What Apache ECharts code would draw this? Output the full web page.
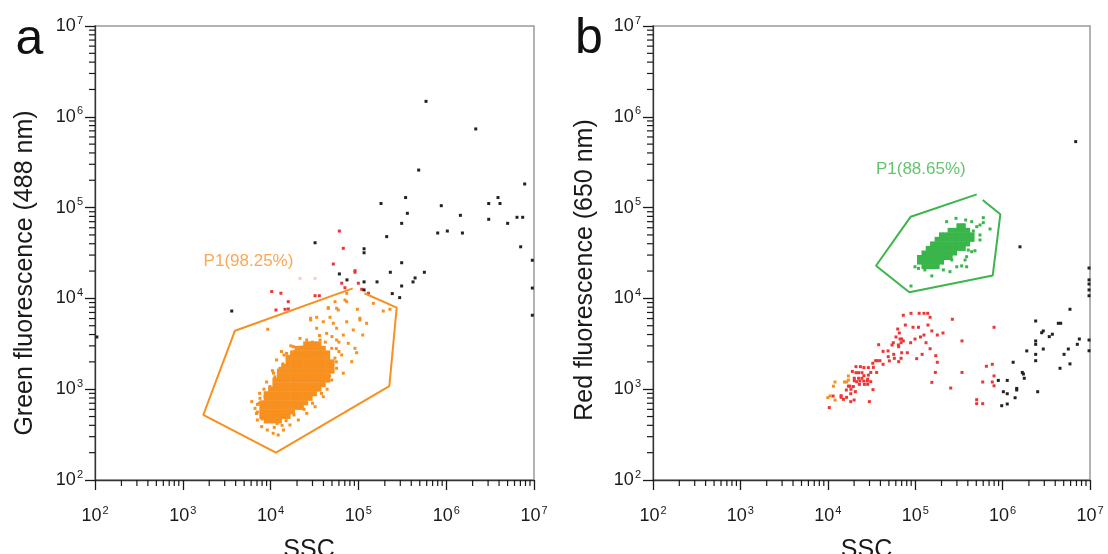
<!DOCTYPE html>
<html><head><meta charset="utf-8">
<script src="https://cdn.jsdelivr.net/npm/echarts@6/dist/echarts.min.js"></script>
<style>html,body{margin:0;padding:0;background:#fff}#chart{width:1108px;height:554px}</style>
</head><body><div id="chart"></div>
<script>
// ---------- axis ticks ----------
const axisMin = 100, axisMax = 1e7;
const majorTicks = [100, 1000, 10000, 100000, 1000000, 10000000];
const minorTicks = [200,300,400,500,600,700,800,900,
  2000,3000,4000,5000,6000,7000,8000,9000,
  20000,30000,40000,50000,60000,70000,80000,90000,
  200000,300000,400000,500000,600000,700000,800000,900000,
  2000000,3000000,4000000,5000000,6000000,7000000,8000000,9000000];

// ---------- panel a : Green fluorescence vs SSC ----------
const gateA = [[117000,11400],[273000,7910],[225000,1080],[11500,200],[1710,520],[3930,4410],[86100,12900]];
const labelA = [[5600,25800]];
const orangeCoreY = [447, 501, 562, 631, 708, 794, 891, 1000, 1120, 1260, 1410, 1580, 1780, 2000, 2240, 2510, 2820, 3160];
const orangeCoreX = [
 [8910, 10000, 11200, 12600],
 [7940, 8910, 10000, 11200, 12600, 14100, 15800],
 [7940, 8910, 10000, 11200, 12600, 14100, 15800, 17800],
 [7940, 8910, 10000, 11200, 12600, 14100, 15800, 17800, 20000, 22400],
 [7940, 8910, 10000, 11200, 12600, 14100, 15800, 17800, 20000, 22400, 25100],
 [8910, 10000, 11200, 12600, 14100, 15800, 17800, 20000, 22400, 25100, 28200],
 [8910, 10000, 11200, 12600, 14100, 15800, 17800, 20000, 22400, 25100, 28200, 31600],
 [10000, 11200, 12600, 14100, 15800, 17800, 20000, 22400, 25100, 28200, 31600, 35500],
 [11200, 12600, 14100, 15800, 17800, 20000, 22400, 25100, 28200, 31600, 35500, 39800],
 [11200, 12600, 14100, 15800, 17800, 20000, 22400, 25100, 28200, 31600, 35500, 39800, 44700],
 [12600, 14100, 15800, 17800, 20000, 22400, 25100, 28200, 31600, 35500, 39800, 44700],
 [12600, 14100, 15800, 17800, 20000, 22400, 25100, 28200, 31600, 35500, 39800, 44700, 50100],
 [14100, 15800, 17800, 20000, 22400, 25100, 28200, 31600, 35500, 39800, 44700, 50100],
 [15800, 17800, 20000, 22400, 25100, 28200, 31600, 35500, 39800, 44700, 50100],
 [15800, 17800, 20000, 22400, 25100, 28200, 31600, 35500, 39800, 44700],
 [17800, 20000, 22400, 25100, 28200, 31600, 35500, 39800, 44700],
 [20000, 22400, 25100, 28200, 31600, 35500, 39800],
 [25100, 28200, 31600, 35500]
];
const orangeHalo = [
 [9270,4570],[28600,5780],[39800,5530],[51800,5320],[73600,5530],[104000,5780],[112000,3950],[87500,4490],[56500,3480],[76700,3200],
 [91400,2820],[83900,2010],[45400,7780],[56500,7780],[73600,9210],[192000,7260],[33500,4690],[25800,3480],[18200,2940],[43500,4120],
 [6100,730],[6640,615],[7570,794],[7070,458],[7920,387],[9180,355],[10700,327],[12200,313],[8630,826],[9840,1070],[11200,1370],[12800,1700],
 [56500,1700],[49700,1260],[39800,826],[32100,641],[25800,542],[20700,458],[16600,404],[14000,355],[67300,1500],[64600,2380],[95500,2520],
 [21600,3630],[36600,3480],[49700,2820],[29400,2700],[56500,4690],[67300,3950],[124000,5320],[14200,2380],[11700,2100],[15200,2480],
 [73600,11400],[54100,9200],[70300,9590],[59000,7450],[97300,7590],[148000,8830],[229000,7590],[45400,7910],[28600,6040],[33500,6190],[47500,6190],[104000,6040],
 [7080,560],[7080,680],[13300,2600],[17000,3000],[54000,2200],[56000,2800],[44000,1000],[38000,900],[30000,700],[24000,600],[7500,900],[8400,1000],
 [10500,1600],[9000,1200],[60000,3300],[42000,3300],[15000,450],[11800,420],[18500,520],[50000,3800],[8300,640],[9500,470],[13000,480],
 [6900,540],[7400,700],[8000,470],[11000,380],[13500,400],[17000,560],[21000,650],[27000,800],[34000,1000],[40000,1150],
 [47000,1400],[56000,2000],[60000,2600],[36000,3900],[30000,3300],[23000,2900],[19000,2600],[16500,2200],[13800,1900],[10800,1500]
];
const paleA = [[21600,16600],[32100,16600]];
const redA = [
 [60700,55200],[67300,35600],[51800,23900],[91400,20200],[91400,19400],[64600,14700],[70300,13100],[99800,14700],[109000,12600],
 [10300,11900],[13100,11400],[15900,9200],[32100,10700],[35900,10700],[11500,7450],[14600,7590],[15900,7640],[130000,11400]
];
const blackA = [
 [589000,1480000],[2170000,735000],[486000,259000],[7830000,182000],[345000,129000],[181000,111000],[361000,86500],[311000,67100],
 [879000,105000],[1450000,82200],[800000,52500],[1030000,55200],[1530000,52500],[3050000,111000],[3890000,129000],[4100000,111000],
 [3050000,74300],[5010000,67100],[6400000,78200],[7430000,78200],[7050000,37000],[9570000,26300],[9570000,13000],[9570000,6520],
 [210000,47900],[116000,35200],[116000,31800],[32100,41000],[311000,24700],[231000,19400],[564000,19400],[442000,16800],[419000,15200],
 [311000,13700],[243000,11300],[295000,10200],[163000,15200],[116000,15200],[60700,18600],[74100,16000],[116000,12400],[3610,7260],[105,3760]
];

// ---------- panel b : Red fluorescence vs SSC ----------
const gateB = [[592000,121000],[942000,84300],[771000,17900],[85700,11700],[35600,22900],[88900,79400],[506000,140000]];
const labelB = [[116000,266000]];
const greenCoreY = [22400, 25100, 28200, 31600, 35500, 39800, 44700, 50100, 56200, 63100];
const greenCoreX = [
 [126000, 141000, 158000, 178000],
 [112000, 126000, 141000, 158000, 178000, 200000],
 [112000, 126000, 141000, 158000, 178000, 200000, 224000, 251000],
 [126000, 141000, 158000, 178000, 200000, 224000, 251000, 282000],
 [141000, 158000, 178000, 200000, 224000, 251000, 282000, 316000, 355000],
 [158000, 178000, 200000, 224000, 251000, 282000, 316000, 355000, 398000],
 [178000, 200000, 224000, 251000, 282000, 316000, 355000, 398000, 447000],
 [200000, 224000, 251000, 282000, 316000, 355000, 398000, 447000],
 [251000, 282000, 316000, 355000, 398000],
 [316000, 355000]
];
const greenHalo = [
 [229000,70000],[293000,76200],[378000,73000],[443000,70000],[601000,77400],[506000,61700],[551000,64300],[718000,58100],
 [405000,55200],[462000,55200],[443000,44000],[551000,49900],[551000,44000],[405000,34100],[443000,32700],[483000,33500],
 [388000,22300],[372000,26500],[155000,17700],[89500,13700],[99500,22300],[109000,21400],[109000,25300],[299000,22300],
 [340000,22800],[262000,26500],[326000,59200],[129000,20600],[210000,20600],[250000,19700],[388000,28800],[601000,68200]
];
const orangeB = [[12100,1200],[11600,1080],[15500,1200],[16400,1200],[17200,1260],[17200,1400],[10000,807],[10600,841],[12100,760]];
const redB = [
 [73100,6520],[89500,6850],[111000,6850],[126000,6850],[139000,6850],[148000,6190],[266000,5890],[77100,5090],[94400,4810],[109000,4810],
 [140000,5090],[155000,4380],[179000,3950],[208000,4160],[63100,4600],[65800,4160],[60300,3760],[67000,3570],[70000,3570],[68900,3250],
 [73100,3400],[64100,3070],[56200,3250],[54300,3070],[64700,2940],[88700,3250],[99500,3570],[115000,3760],[126000,3950],[133000,3250],
 [81300,2520],[70000,2520],[56800,2420],[48900,2640],[42900,2610],[38200,3090],[57700,2190],[49200,2280],[68900,2190],[64700,2010],
 [50600,2050],[42900,1880],[39500,2060],[35300,2060],[36900,2060],[32700,1930],[29100,1730],[25900,1730],[23600,1770],[21000,1770],
 [19100,1570],[21000,1520],[22500,1520],[24600,1520],[31000,1530],[29100,1430],[33200,1740],[36200,1530],[25900,1410],[28600,1290],
 [24600,1320],[22500,1320],[20100,1320],[20100,1240],[21400,1210],[23300,1230],[25800,1230],[28300,1230],[31000,1210],[26200,1130],
 [28600,1130],[23000,1130],[19600,1070],[17900,1080],[18400,998],[17200,1080],[16300,980],[20700,940],[18300,891],[32900,989],
 [14200,849],[14200,813],[15100,773],[16400,813],[18300,729],[20000,760],[29900,729],[10400,627],[11500,841],
 [104000,2170],[120000,2420],[148000,2790],[172000,2340],[179000,1980],[170000,1530],[155000,1190],[255000,1030],[343000,3400],[343000,1530],
 [798000,4810],[762000,1880],[652000,1790],[798000,1400],[592000,1200],[762000,1200],[798000,1090],[505000,767],[505000,693],[592000,693]
];
const blackB = [
 [5900000,7590],[2390000,5640],[4340000,5320],[4620000,5320],[2800000,4190],[2920000,4380],[3420000,3790],[3710000,4030],[2390000,3400],
 [2390000,3120],[2920000,2770],[7550000,3570],[7160000,3120],[9750000,3480],[9750000,2650],[9750000,12400],[9750000,10700],[5650000,2770],
 [5050000,2420],[1890000,2640],[2390000,2420],[2390000,2060],[4540000,1700],[5900000,1900],[1320000,1980],[1680000,1530],[1730000,1470],
 [1770000,1320],[893000,1250],[1130000,1250],[1450000,1020],[1450000,980],[1020000,938],[1130000,891],[2520000,938],[1390000,805],
 [977000,658],[1130000,687],[6860000,533000],[1580000,37000],[9750000,21600],[9750000,16000],[9750000,14400]
];

// ---------- build ----------
const FONT = '"Liberation Sans", Arial, Helvetica, sans-serif';
const INK = '#1a1a1a';
const C_ORANGE = '#F7901F', C_GREEN = '#39B54A', C_RED = '#EE3535', C_BLACK = '#222222', C_PALE = '#F9CFB6';

function rowsToPoints(ys, xs) {
  const out = [];
  ys.forEach((y, i) => xs[i].forEach(x => out.push([x, y])));
  return out;
}
const tickLabel = v => '{m|10}{s|' + Math.round(Math.log10(v)) + '}';
const rich = {
  m: {fontSize: 18, lineHeight: 22, fontFamily: FONT, color: INK},
  s: {fontSize: 11, lineHeight: 8, verticalAlign: 'top', fontFamily: FONT, color: INK, padding: [0, 0, 0, 1]}
};
function mkX(g) {
  return {gridIndex: g, type: 'log', logBase: 10, min: axisMin, max: axisMax,
    axisLine: {show: true, onZero: false, lineStyle: {color: '#333', width: 1.3}},
    axisTick: {show: true, length: 10, lineStyle: {color: INK, width: 1.3}},
    axisLabel: {margin: 25, formatter: tickLabel, rich: rich},
    splitLine: {show: false}, minorTick: {show: false}};
}
function mkY(g) {
  return {gridIndex: g, type: 'log', logBase: 10, min: axisMin, max: axisMax,
    axisLine: {show: true, onZero: false, lineStyle: {color: '#333', width: 1.3}},
    axisTick: {show: true, length: 10, lineStyle: {color: INK, width: 1.3}},
    axisLabel: {margin: 12, formatter: tickLabel, rich: rich},
    splitLine: {show: false}, minorTick: {show: false}};
}
function minorTickSeries(ai, dir) {
  return {type: 'custom', xAxisIndex: ai, yAxisIndex: ai, silent: true, clip: false, z: 5,
    data: minorTicks.map(v => dir === 'x' ? [v, axisMin] : [axisMin, v]),
    renderItem: function (params, api) {
      const p = api.coord([api.value(0), api.value(1)]);
      const shape = dir === 'x' ? {x1: p[0], y1: p[1], x2: p[0], y2: p[1] + 6}
                                : {x1: p[0] - 6, y1: p[1], x2: p[0], y2: p[1]};
      return {type: 'line', shape: shape, style: {stroke: INK, lineWidth: 1.2}};
    }};
}
function dots(ai, data, color, size) {
  return {type: 'scatter', xAxisIndex: ai, yAxisIndex: ai, data: data, symbol: 'rect', symbolSize: size,
    itemStyle: {color: color, opacity: 1}, silent: true, large: false, z: 2};
}
function gate(ai, data, color) {
  return {type: 'line', xAxisIndex: ai, yAxisIndex: ai, data: data, symbol: 'none', showSymbol: false,
    lineStyle: {color: color, width: 2}, silent: true, z: 4};
}
function gateLabel(ai, data, text, color) {
  return {type: 'scatter', xAxisIndex: ai, yAxisIndex: ai, data: data, symbolSize: 0, silent: true, z: 6,
    label: {show: true, position: 'inside', formatter: text, color: color, fontSize: 17, fontFamily: FONT}};
}

const option = {
  animation: false,
  backgroundColor: '#ffffff',
  grid: [
    {left: 95, top: 26, width: 439, height: 454, show: true, borderColor: '#9a9a9a', borderWidth: 1.5},
    {left: 653, top: 26, width: 437, height: 454, show: true, borderColor: '#9a9a9a', borderWidth: 1.5}
  ],
  xAxis: [mkX(0), mkX(1)],
  yAxis: [mkY(0), mkY(1)],
  graphic: [
    {type: 'text', x: 29.5, y: 40, style: {text: 'a', fontSize: 50, fontFamily: FONT, fill: '#111', align: 'center', verticalAlign: 'middle'}},
    {type: 'text', x: 589, y: 39, style: {text: 'b', fontSize: 50, fontFamily: FONT, fill: '#111', align: 'center', verticalAlign: 'middle'}},
    {type: 'text', x: 25, y: 273, rotation: Math.PI / 2, style: {text: 'Green fluorescence (488 nm)', fontSize: 25, fontFamily: FONT, fill: INK, align: 'center', verticalAlign: 'middle'}},
    {type: 'text', x: 585, y: 270, rotation: Math.PI / 2, style: {text: 'Red fluorescence (650 nm)', fontSize: 25, fontFamily: FONT, fill: INK, align: 'center', verticalAlign: 'middle'}},
    {type: 'text', x: 309, y: 550, style: {text: 'SSC', fontSize: 25, fontFamily: FONT, fill: INK, align: 'center', verticalAlign: 'middle'}},
    {type: 'text', x: 866.5, y: 550, style: {text: 'SSC', fontSize: 25, fontFamily: FONT, fill: INK, align: 'center', verticalAlign: 'middle'}}
  ],
  series: [
    minorTickSeries(0, 'x'), minorTickSeries(0, 'y'),
    minorTickSeries(1, 'x'), minorTickSeries(1, 'y'),
    dots(0, rowsToPoints(orangeCoreY, orangeCoreX), C_ORANGE, 5),
    dots(0, orangeHalo, C_ORANGE, 3),
    dots(0, paleA, C_PALE, 3),
    dots(0, redA, C_RED, 3),
    dots(0, blackA, C_BLACK, 3),
    gate(0, gateA, '#F7901E'),
    gateLabel(0, labelA, 'P1(98.25%)', '#F7922A'),
    dots(1, rowsToPoints(greenCoreY, greenCoreX), C_GREEN, 5),
    dots(1, greenHalo, C_GREEN, 3),
    dots(1, orangeB, C_ORANGE, 3),
    dots(1, redB, C_RED, 3),
    dots(1, blackB, C_BLACK, 3),
    gate(1, gateB, '#3DB54A'),
    gateLabel(1, labelB, 'P1(88.65%)', '#3DB54A')
  ]
};
const chart = echarts.init(document.getElementById('chart'), null, {renderer: 'canvas'});
chart.setOption(option);
</script>
</body></html>
